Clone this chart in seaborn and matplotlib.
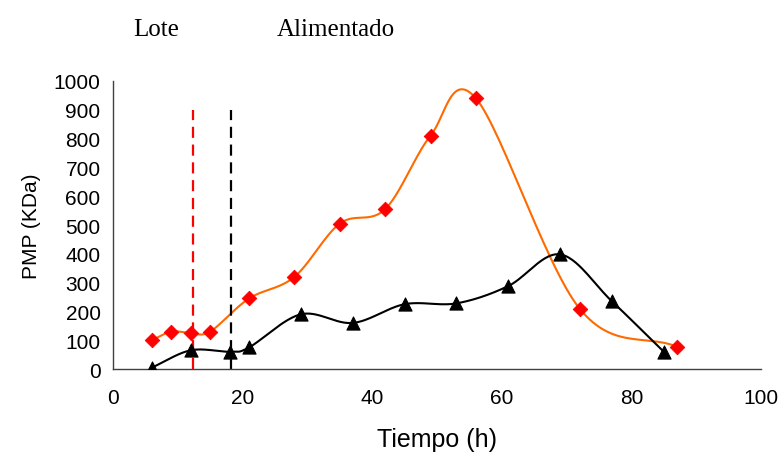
import numpy as np
import pandas as pd
import matplotlib
matplotlib.use('Agg')
import matplotlib.pyplot as plt
import seaborn as sns

# data
t_fed = [6, 9, 12, 15, 21, 28, 35, 42, 49, 56, 72, 87]
pmp_fed = [100, 130, 125, 130, 245, 320, 505, 555, 810, 940, 210, 78]
t_batch = [6, 12, 18, 21, 29, 37, 45, 53, 61, 69, 77, 85]
pmp_batch = [5, 65, 60, 75, 190, 160, 225, 228, 288, 398, 235, 60]
switch_red = 12.3
switch_black = 18.2
switch_top = 900


def smooth(x, y, n=30):
    # Catmull-Rom curve through the points, like a spreadsheet "smoothed line"
    x = np.asarray(x, float)
    y = np.asarray(y, float)
    px = np.concatenate([[2 * x[0] - x[1]], x, [2 * x[-1] - x[-2]]])
    py = np.concatenate([[2 * y[0] - y[1]], y, [2 * y[-1] - y[-2]]])
    xs, ys = [], []
    s = np.linspace(0, 1, n, endpoint=False)
    for i in range(1, len(px) - 2):
        for arr, out in ((px, xs), (py, ys)):
            p0, p1, p2, p3 = arr[i - 1], arr[i], arr[i + 1], arr[i + 2]
            out.extend(0.5 * (2 * p1 + (-p0 + p2) * s
                              + (2 * p0 - 5 * p1 + 4 * p2 - p3) * s ** 2
                              + (-p0 + 3 * p1 - 3 * p2 + p3) * s ** 3))
    xs.append(x[-1])
    ys.append(y[-1])
    return np.array(xs), np.array(ys)


sns.set_theme(style='white')
plt.rcParams['font.family'] = ['Liberation Sans', 'DejaVu Sans']
plt.rcParams['text.color'] = 'black'
plt.rcParams['axes.labelcolor'] = 'black'

fed = pd.DataFrame({'t': t_fed, 'pmp': pmp_fed})
batch = pd.DataFrame({'t': t_batch, 'pmp': pmp_batch})

fig = plt.figure(figsize=(7.8, 4.77), dpi=100)
ax = fig.add_axes([0.1449, 0.2243, 0.8307, 0.6038])

sx, sy = smooth(fed['t'], fed['pmp'])
sns.lineplot(x=sx, y=sy, color='#ff6a00', lw=1.5, sort=False, ax=ax)
bx, by = smooth(batch['t'], batch['pmp'])
sns.lineplot(x=bx, y=by, color='black', lw=1.5, sort=False, ax=ax)

sns.scatterplot(data=fed, x='t', y='pmp', marker='D', s=55, color='#ff0000',
                edgecolor='#ff0000', zorder=5, ax=ax)
sns.scatterplot(data=batch, x='t', y='pmp', marker='^', s=90, color='black',
                edgecolor='black', zorder=5, ax=ax)

ax.plot([switch_red, switch_red], [0, switch_top], color='#ff0000', ls=(0, (5, 3)), lw=1.6)
ax.plot([switch_black, switch_black], [0, switch_top], color='black', ls=(0, (5, 3)), lw=1.6)

ax.set_xlim(0, 100)
ax.set_ylim(0, 1000)
ax.set_xticks(range(0, 101, 20))
ax.set_yticks(range(0, 1001, 100))
ax.tick_params(axis='both', direction='out', length=5, width=1, colors='#404040',
               labelcolor='black', labelsize=15)
ax.tick_params(axis='x', pad=9)
ax.tick_params(axis='y', pad=4)
for side in ('top', 'right'):
    ax.spines[side].set_visible(False)
for side in ('left', 'bottom'):
    ax.spines[side].set_color('#404040')
    ax.spines[side].set_linewidth(1)

ax.set_xlabel('Tiempo (h)', fontsize=18, labelpad=14, color='black')
ax.set_ylabel('PMP (KDa)', fontsize=15, labelpad=9, color='black')

fig.text(133 / 780, 1 - 36 / 477, 'Lote', family='Liberation Serif', fontsize=18,
         va='baseline', color='black')
fig.text(277 / 780, 1 - 36 / 477, 'Alimentado', family='Liberation Serif', fontsize=18,
         va='baseline', color='black')

fig.savefig('out.png', dpi=100)
